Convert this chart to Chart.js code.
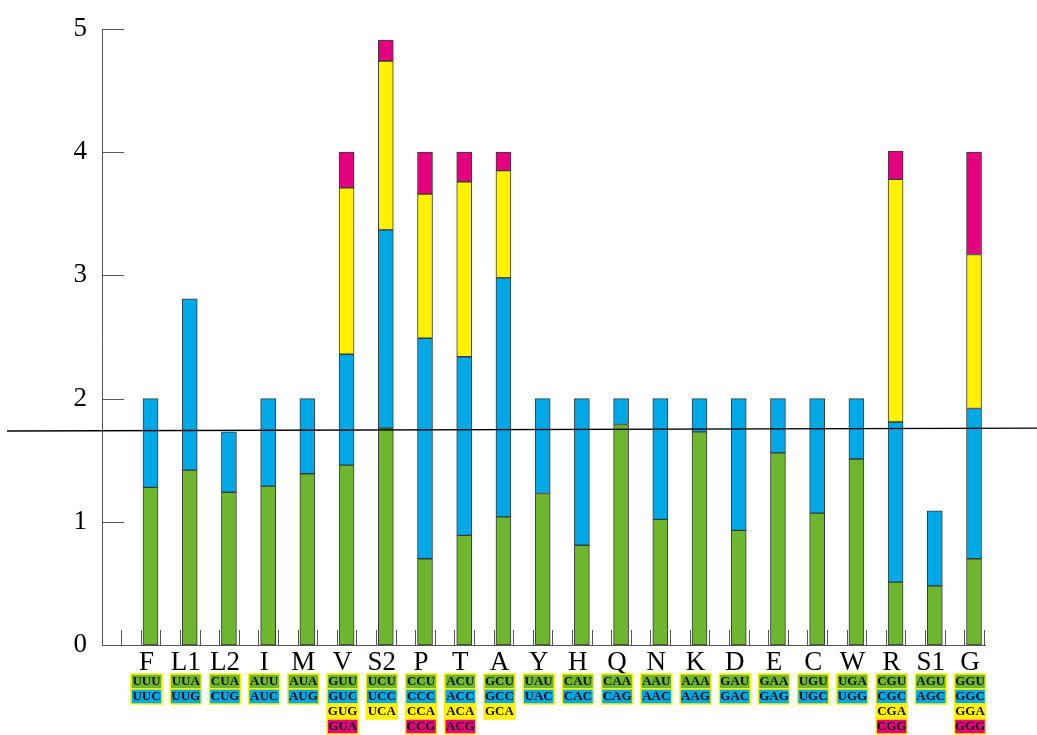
<!DOCTYPE html>
<html>
<head>
<meta charset="utf-8">
<script src="https://cdn.jsdelivr.net/npm/chart.js@4.4.1/dist/chart.umd.min.js"></script>
<style>
  body { margin: 0; background: #fff; }
  canvas { display: block; }
</style>
</head>
<body>
<canvas id="grafico" width="1037" height="735"></canvas>
<script>
// amino acids along the x axis
const aminoacids = ["F", "L1", "L2", "I", "M", "V", "S2", "P", "T", "A", "Y", "H", "Q", "N", "K", "D", "E", "C", "W", "R", "S1", "G"];

// RSCU of each codon, stacked from bottom (1st codon) to top (4th codon)
const codon1 = [1.28, 1.42, 1.24, 1.29, 1.39, 1.46, 1.76, 0.70, 0.89, 1.04, 1.23, 0.81, 1.79, 1.02, 1.73, 0.93, 1.56, 1.07, 1.51, 0.51, 0.48, 0.70];
const codon2 = [0.72, 1.39, 0.49, 0.71, 0.61, 0.90, 1.61, 1.79, 1.45, 1.94, 0.77, 1.19, 0.21, 0.98, 0.27, 1.07, 0.44, 0.93, 0.49, 1.30, 0.61, 1.22];
const codon3 = [null, null, null, null, null, 1.35, 1.37, 1.17, 1.42, 0.87, null, null, null, null, null, null, null, null, null, 1.97, null, 1.25];
const codon4 = [null, null, null, null, null, 0.29, 0.17, 0.34, 0.24, 0.15, null, null, null, null, null, null, null, null, null, 0.23, null, 0.83];

// codon boxes under each amino acid
const codons = [
    ["UUU", "UUC"], ["UUA", "UUG"], ["CUA", "CUG"], ["AUU", "AUC"], ["AUA", "AUG"],
    ["GUU", "GUC", "GUG", "GUA"], ["UCU", "UCC", "UCA"], ["CCU", "CCC", "CCA", "CCG"],
    ["ACU", "ACC", "ACA", "ACG"], ["GCU", "GCC", "GCA"], ["UAU", "UAC"], ["CAU", "CAC"],
    ["CAA", "CAG"], ["AAU", "AAC"], ["AAA", "AAG"], ["GAU", "GAC"], ["GAA", "GAG"],
    ["UGU", "UGC"], ["UGA", "UGG"], ["CGU", "CGC", "CGA", "CGG"], ["AGU", "AGC"],
    ["GGU", "GGC", "GGA", "GGG"]
];

const yTicks = [0, 1, 2, 3, 4, 5];
// reference line, value at left and right edge
const meanLine = [1.737, 1.761];

const colors = ["#6db62d", "#00a8e6", "#fff100", "#e4007f"];
const serif = "'Liberation Serif', 'Times New Roman', serif";

function points(values) {
    return values
        .map((v, i) => ({ x: i, y: v }))
        .filter(p => p.y !== null);
}

function barSet(values, color) {
    return {
        data: points(values),
        backgroundColor: color,
        borderColor: "#3a3a3a",
        borderWidth: 1,
        borderSkipped: false,
        barThickness: 15
    };
}

const extras = {
    id: "extras",
    afterDatasetsDraw(chart) {
        const { ctx, chartArea } = chart;
        const x = chart.scales.x;
        const y = chart.scales.y;
        ctx.save();

        // short ticks on the x axis
        ctx.strokeStyle = "#555";
        ctx.lineWidth = 1;
        const marks = [-0.75];
        aminoacids.forEach((_, i) => marks.push(i - 0.25, i + 0.25));
        marks.forEach(v => {
            const px = Math.round(x.getPixelForValue(v)) + 0.5;
            ctx.beginPath();
            ctx.moveTo(px, chartArea.bottom);
            ctx.lineTo(px, chartArea.bottom - 15);
            ctx.stroke();
        });

        // y ticks pointing inward
        yTicks.forEach(v => {
            const py = Math.round(y.getPixelForValue(v)) + 0.5;
            ctx.beginPath();
            ctx.moveTo(chartArea.left, py);
            ctx.lineTo(chartArea.left + 22, py);
            ctx.stroke();
        });

        // reference line across the whole picture
        ctx.strokeStyle = "#000";
        ctx.lineWidth = 1.3;
        ctx.beginPath();
        ctx.moveTo(7, y.getPixelForValue(meanLine[0]));
        ctx.lineTo(chart.width, y.getPixelForValue(meanLine[1]));
        ctx.stroke();

        // codon boxes
        ctx.font = "bold 13px " + serif;
        ctx.textAlign = "center";
        ctx.textBaseline = "middle";
        codons.forEach((list, i) => {
            const xc = x.getPixelForValue(i) - 4;
            list.forEach((codon, j) => {
                const top = 674 + 15 * j;
                ctx.fillStyle = colors[j];
                ctx.fillRect(xc - 15.5, top, 31, 15);
                ctx.strokeStyle = "#fff200";
                ctx.lineWidth = 1.5;
                ctx.strokeRect(xc - 15.5, top, 31, 15);
                ctx.fillStyle = "#111";
                ctx.fillText(codon, xc, top + 8);
            });
        });

        ctx.restore();
    }
};

new Chart(document.getElementById("grafico"), {
    type: "bar",
    data: {
        datasets: [
            barSet(codon1, colors[0]),
            barSet(codon2, colors[1]),
            barSet(codon3, colors[2]),
            barSet(codon4, colors[3])
        ]
    },
    options: {
        responsive: false,
        animation: false,
        layout: { padding: { top: 29, right: 52, left: 0, bottom: 0 } },
        plugins: { legend: { display: false }, tooltip: { enabled: false } },
        scales: {
            x: {
                type: "linear",
                stacked: true,
                offset: false,
                min: -1.237,
                max: 21.28,
                grid: { display: false, drawTicks: false },
                border: { color: "#555", width: 1 },
                afterBuildTicks: scale => { scale.ticks = aminoacids.map((_, i) => ({ value: i })); },
                afterFit: scale => { scale.height = 90; },
                ticks: {
                    autoSkip: false,
                    maxRotation: 0,
                    labelOffset: -4,
                    padding: 2,
                    color: "#000",
                    font: { family: serif, size: 27 },
                    callback: v => aminoacids[v]
                }
            },
            y: {
                stacked: true,
                min: 0,
                max: 5,
                grid: { display: false, drawTicks: false },
                border: { color: "#555", width: 1 },
                afterFit: scale => {
                    scale.width = 102;
                    scale.paddingTop = 0;
                },
                ticks: {
                    stepSize: 1,
                    padding: 15,
                    color: "#000",
                    font: { family: serif, size: 27 }
                }
            }
        }
    },
    plugins: [extras]
});
</script>
</body>
</html>
